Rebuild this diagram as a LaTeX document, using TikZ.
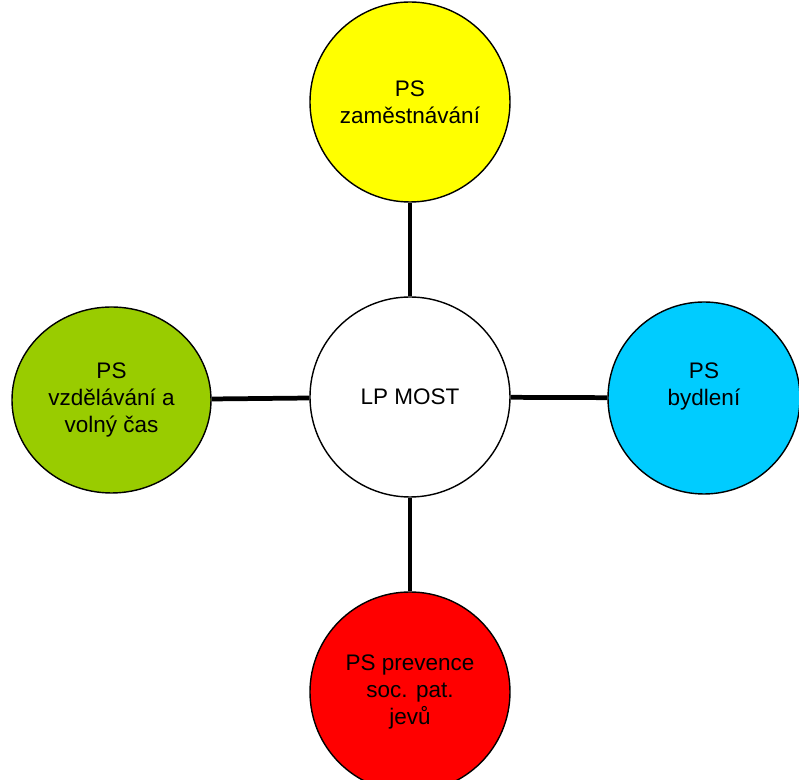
\documentclass[tikz,border=0pt]{standalone}
\usepackage{fontspec}
\setmainfont{Liberation Sans}
\usetikzlibrary{shapes.geometric}

\definecolor{psyellow}{HTML}{FFFF00}
\definecolor{psgreen}{HTML}{99CC00}
\definecolor{psblue}{HTML}{00CCFF}
\definecolor{psred}{HTML}{FF0000}

\begin{document}
\begin{tikzpicture}[
  bubble/.style={ellipse, draw=black, line width=0.8pt, inner sep=0pt,
                 minimum width=4cm, minimum height=4cm,
                 font=\fontsize{12.8}{15.3}\selectfont, align=center},
  link/.style={line width=2.7pt, draw=black}
]
\useasboundingbox (0,0) rectangle (15.98,-15.6);

% ── Hub and group nodes ──
\node[bubble, fill=white]    (most) at (8.2,-7.94)  {LP MOST};
\node[bubble, fill=psyellow] (zam)  at (8.2,-2.04)  {PS\\zaměstnávání};
\node[bubble, fill=psgreen, minimum width=3.98cm, minimum height=3.72cm]
                             (vzd)  at (2.23,-8.0)  {PS\\vzdělávání a\\volný čas};
\node[bubble, fill=psblue, minimum width=3.84cm, minimum height=3.84cm]
                             (byd)  at (14.08,-7.96) {PS\\bydlení\\\mbox{}};
\node[bubble, fill=psred]    (prev) at (8.2,-13.84) {PS prevence\\soc. pat.\\jevů};

% ── Spokes ──
\draw[link] (most) -- (zam);
\draw[link] (most) -- (vzd);
\draw[link] (most) -- (byd);
\draw[link] (most) -- (prev);
\end{tikzpicture}
\end{document}
